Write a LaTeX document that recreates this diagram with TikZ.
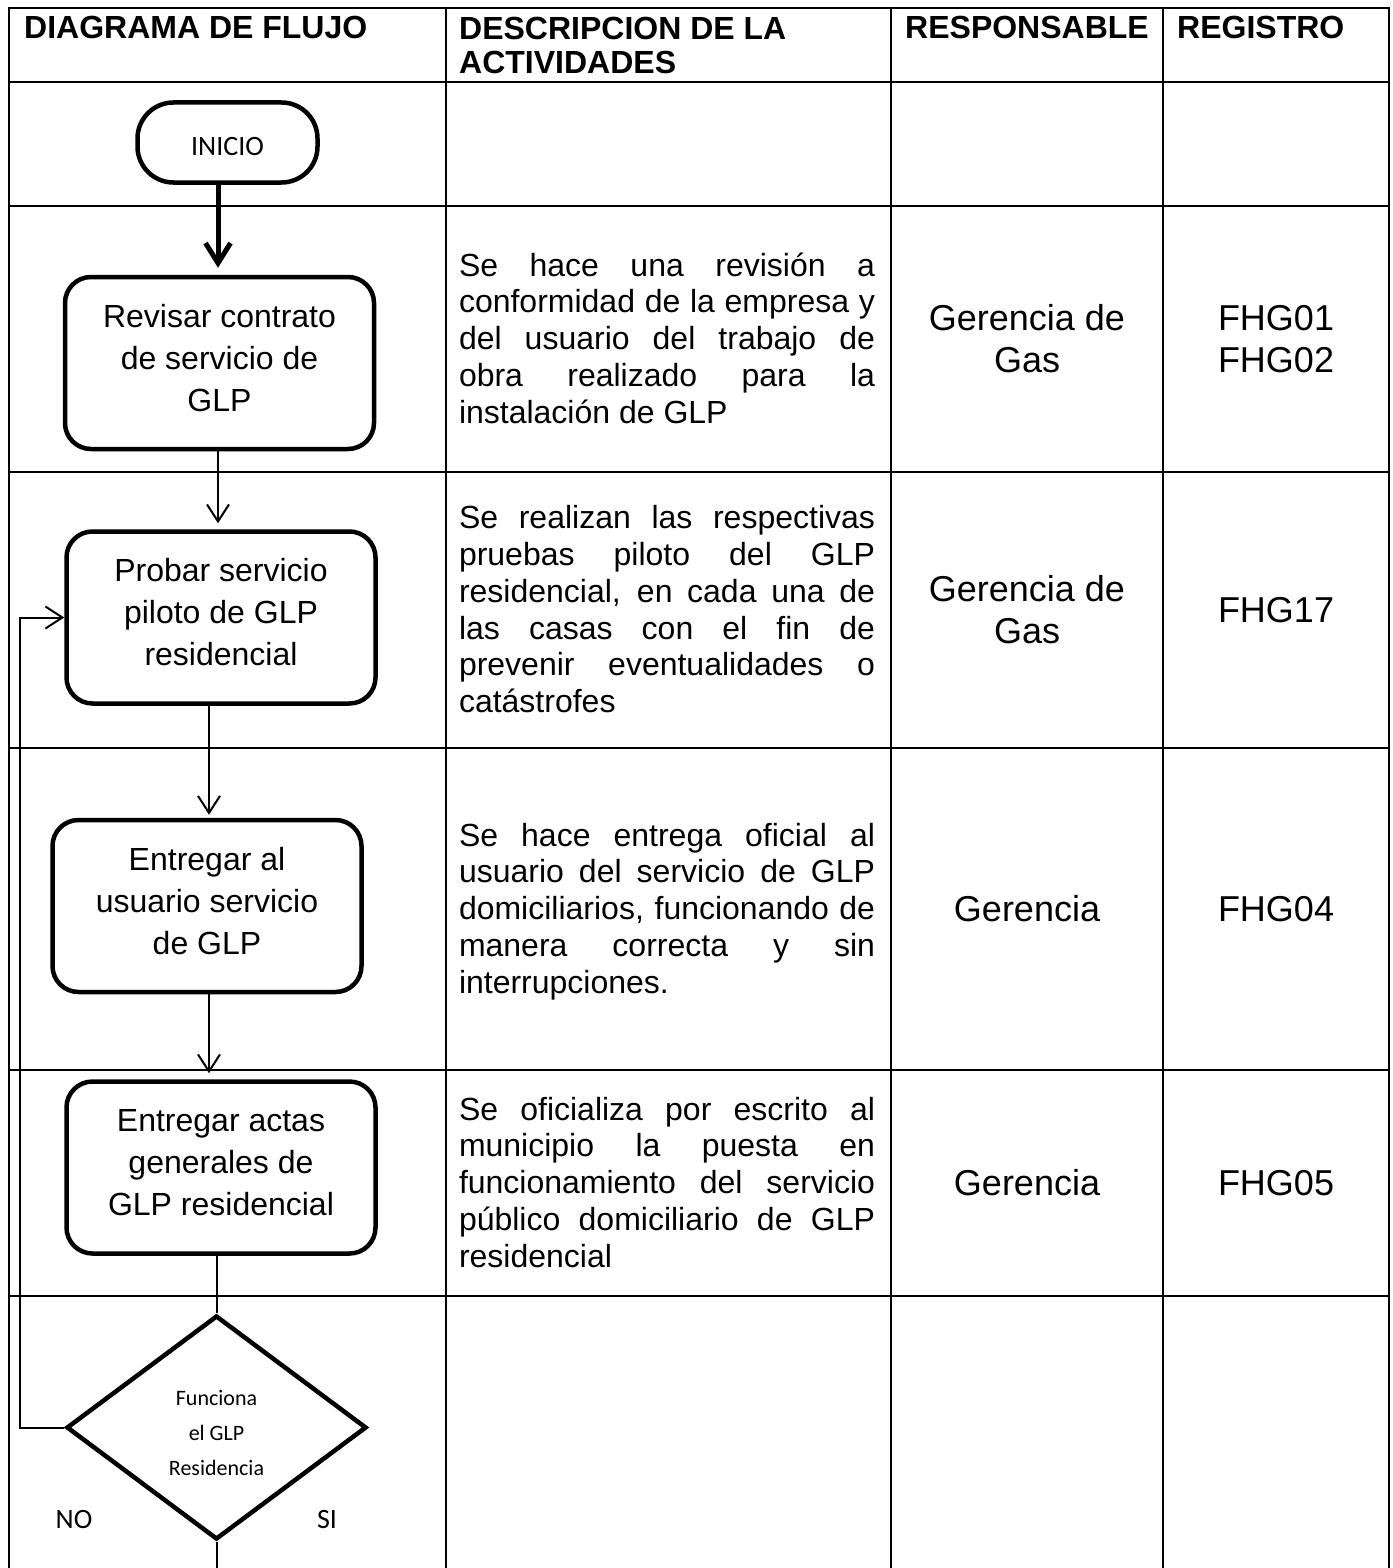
\documentclass[tikz,border=0pt]{standalone}
\usepackage{fontspec}
\setmainfont{Liberation Sans}
\newfontfamily\carfont{Carlito}
\usetikzlibrary{arrows.meta,shapes.geometric}
\newcommand\jline[1]{\makebox[416pt][s]{#1}}
\newcommand\dstr{\rule[-7.8pt]{0pt}{36.8pt}}
\newcommand\bstr{\rule[-15pt]{0pt}{42pt}}
\newcommand\rstr{\rule[-9pt]{0pt}{42pt}}
\newcommand\hstr{\rule[-8pt]{0pt}{34pt}}
\newcommand\qstr{\rule[-5pt]{0pt}{35pt}}
\begin{document}
\begin{tikzpicture}[x=1pt,y=-1pt,
  tbl/.style={line width=2.5pt, line cap=rect},
  hdr/.style={inner sep=0pt, font=\bfseries\fontsize{32}{34}\selectfont},
  term/.style={draw, line width=4.5pt, rounded corners=36pt, minimum width=180pt, minimum height=80pt, inner sep=0pt, text height=26pt, text depth=0pt, font=\carfont\fontsize{28}{34}\selectfont},
  proc/.style={draw, line width=4.5pt, rounded corners=26pt, minimum width=309pt, minimum height=172pt, inner sep=0pt, align=center, font=\fontsize{32}{42}\selectfont},
  dec/.style={draw, diamond, aspect=1.33, line width=4.5pt, minimum width=300pt, minimum height=224pt, inner sep=0pt, align=center, font=\carfont\fontsize{22}{35}\selectfont},
  lbl/.style={inner sep=0pt, font=\carfont\fontsize{28}{32}\selectfont},
  desc/.style={inner sep=0pt, align=left, anchor=center, font=\fontsize{32}{36.8}\selectfont},
  resp/.style={inner sep=0pt, align=center, anchor=center, font=\fontsize{36}{42}\selectfont},
  conn/.style={line width=2pt},
  arr/.style={line width=2pt, -{Straight Barb[length=17pt,width=22pt]}},
  bigarr/.style={line width=5pt, -{Straight Barb[length=20pt,width=25pt]}}
]
\useasboundingbox (0,0) rectangle (1392,1568);
\fill[white] (0,0) rectangle (1392,1568);

% table
\foreach \x in {9,446,891,1163,1389} \draw[tbl] (\x,8) -- (\x,1568);
\foreach \y in {8,82,206,472,748,1070,1296} \draw[tbl] (9,\y) -- (1389,\y);

% headers
\node[hdr, anchor=base west] (h1) at (24,39) {DIAGRAMA DE FLUJO};
\node[hdr, anchor=north west, align=left] (h2) at (459,13) {\hstr DESCRIPCION DE LA\\\hstr ACTIVIDADES};
\node[hdr, anchor=base west] (h3) at (905,39) {RESPONSABLE};
\node[hdr, anchor=base west] (h4) at (1177,39) {REGISTRO};

% flowchart
\node[term] (ini) at (227.5,142.5) {INICIO};
\node[proc] (b1) at (219.5,363) {\bstr Revisar contrato\\\bstr de servicio de\\\bstr GLP};
\node[proc] (b2) at (221,617.5) {\bstr Probar servicio\\\bstr piloto de GLP\\\bstr residencial};
\node[proc] (b3) at (207,906) {\bstr Entregar al\\\bstr usuario servicio\\\bstr de GLP};
\node[proc] (b4) at (221,1167.5) {\bstr Entregar actas\\\bstr generales de\\\bstr GLP residencial};
\node[dec] (dia) at (216.5,1427.5) {\qstr Funciona\\\qstr el GLP\\\qstr Residencia};
\node[lbl] (no) at (74,1519) {NO};
\node[lbl] (si) at (327,1519) {SI};

\coordinate (colA) at (209,0);
\coordinate (colB) at (218,0);
\coordinate (fb) at (20,1427.5);
\coordinate (pagebot) at (0,1568);

\draw[bigarr, shorten >=7pt] (ini.south -| colB) -- (b1.north -| colB);
\draw[arr, shorten >=6pt] (b1.south -| colB) -- (b2.north -| colB);
\draw[arr, shorten >=3pt] (b2.south -| colA) -- (b3.north -| colA);
\draw[arr, shorten >=6pt] (b3.south -| colA) -- (b4.north -| colA);
\draw[conn] (b4.south -| dia.north) -- (dia.north);
\draw[conn] (dia.south) -- (dia.south |- pagebot);
\draw[arr] (dia.west) -- (fb) |- (b2.west);

% descriptions
\node[desc] (d2) at (667,339) {\jline{\dstr Se hace una revisión a}\\\jline{\dstr conformidad de la empresa y}\\\jline{\dstr del usuario del trabajo de}\\\jline{\dstr obra realizado para la}\\\dstr instalación de GLP};
\node[desc] (d3) at (667,610) {\jline{\dstr Se realizan las respectivas}\\\jline{\dstr pruebas piloto del GLP}\\\jline{\dstr residencial, en cada una de}\\\jline{\dstr las casas con el fin de}\\\jline{\dstr prevenir eventualidades o}\\\dstr catástrofes};
\node[desc] (d4) at (667,909) {\jline{\dstr Se hace entrega oficial al}\\\jline{\dstr usuario del servicio de GLP}\\\jline{\dstr domiciliarios, funcionando de}\\\jline{\dstr manera correcta y sin}\\\dstr interrupciones.};
\node[desc] (d5) at (667,1183) {\jline{\dstr Se oficializa por escrito al}\\\jline{\dstr municipio la puesta en}\\\jline{\dstr funcionamiento del servicio}\\\jline{\dstr público domiciliario de GLP}\\\dstr residencial};

% responsables
\node[resp] (r2) at (1027,339) {\rstr Gerencia de\\\rstr Gas};
\node[resp] (r3) at (1027,610) {\rstr Gerencia de\\\rstr Gas};
\node[resp] (r4) at (1027,909) {\rstr Gerencia};
\node[resp] (r5) at (1027,1183) {\rstr Gerencia};

% registros
\node[resp] (g2) at (1276,339) {\rstr FHG01\\\rstr FHG02};
\node[resp] (g3) at (1276,610) {\rstr FHG17};
\node[resp] (g4) at (1276,909) {\rstr FHG04};
\node[resp] (g5) at (1276,1183) {\rstr FHG05};
\end{tikzpicture}
\end{document}
